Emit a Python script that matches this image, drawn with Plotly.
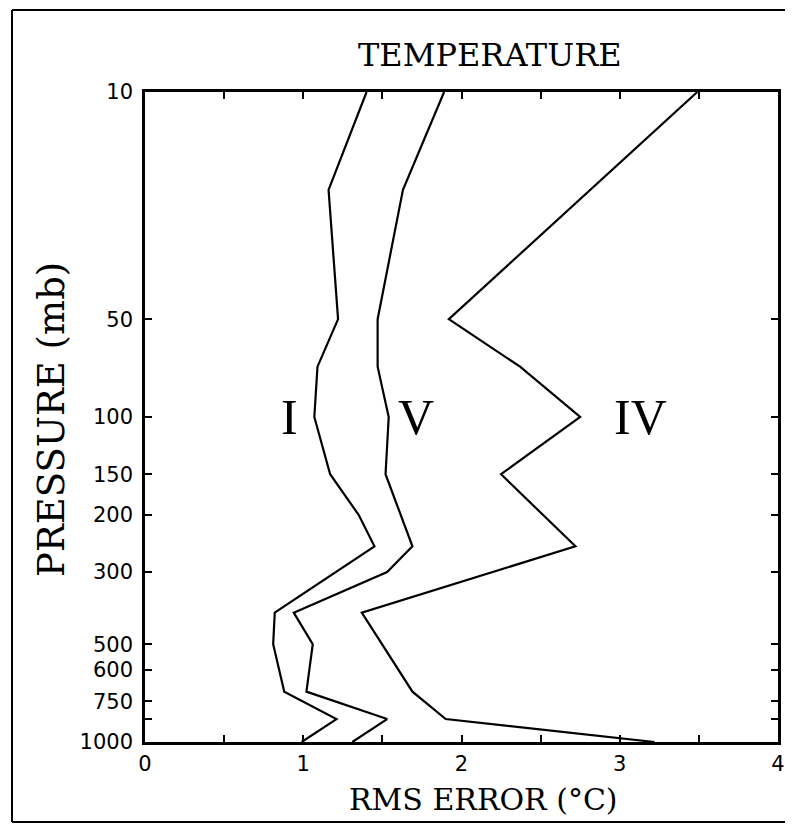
import math
import plotly.graph_objects as go

# Pressure levels (mb) where curve vertices lie
pressure = [10, 20, 50, 70, 100, 150, 200, 250, 300, 400, 500, 700, 850, 1000]

# RMS temperature error (deg C); None = no vertex at that level
rms_I = [1.40, 1.16, 1.22, 1.09, 1.07, 1.17, 1.35, 1.45, None, 0.82, 0.81, 0.88, 1.21, 0.99]
rms_V = [1.89, 1.63, 1.47, 1.47, 1.54, 1.52, None, 1.69, 1.53, 0.94, 1.06, 1.02, 1.53, 1.31]
rms_IV = [3.49, None, 1.92, 2.37, 2.75, 2.25, None, 2.72, None, 1.37, None, 1.69, 1.90, 3.22]

series_names = ["I", "V", "IV"]
series_values = [rms_I, rms_V, rms_IV]
label_x = [0.91, 1.71, 3.13]
label_p = [100, 100, 100]

y_tickvals = [10, 50, 100, 150, 200, 300, 500, 600, 750, 850, 1000]
y_ticktext = ["10", "50", "100", "150", "200", "300", "500", "600", "750", "", "1000"]
x_tickvals = [0, 0.5, 1, 1.5, 2, 2.5, 3, 3.5, 4]
x_ticktext = ["0", "", "1", "", "2", "", "3", "", "4"]

fig = go.Figure()
for name, vals in zip(series_names, series_values):
    fig.add_trace(go.Scatter(
        x=vals, y=pressure, mode="lines", name=name, connectgaps=True,
        line=dict(color="black", width=2.2), showlegend=False,
    ))

for name, lx, lp in zip(series_names, label_x, label_p):
    fig.add_annotation(x=lx, y=math.log10(lp), xref="x", yref="y", text=name,
                       showarrow=False, font=dict(family="Liberation Serif", size=50, color="black"),
                       xanchor="center", yanchor="middle")

# page offset of the figure inside the browser body (default 8px body margin)
OFF = 8
W, H = 793 - OFF, 828 - OFF
L, R, T, B = 145 - OFF, 778 - OFF, 92 - OFF, 742 - OFF
pw, ph = R - L, B - T

def px_x(px):
    return (px - OFF - L) / pw

def px_y(py):
    return (B - (py - OFF)) / ph

fig.add_annotation(x=px_x(490), y=px_y(55), xref="paper", yref="paper", text="TEMPERATURE",
                   showarrow=False, font=dict(family="DejaVu Serif", size=32, color="black"),
                   xanchor="center", yanchor="middle")
fig.add_annotation(x=px_x(483), y=px_y(799), xref="paper", yref="paper", text="RMS ERROR (°C)",
                   showarrow=False, font=dict(family="DejaVu Serif", size=30, color="black"),
                   xanchor="center", yanchor="middle")
fig.add_annotation(x=px_x(51), y=px_y(420), xref="paper", yref="paper", text="PRESSURE (mb)",
                   showarrow=False, textangle=-90, font=dict(family="DejaVu Serif", size=37, color="black"),
                   xanchor="center", yanchor="middle")

# scanned page border (left, top, bottom)
border = dict(color="black", width=2)
fig.add_shape(type="line", xref="paper", yref="paper", x0=px_x(12), x1=px_x(12), y0=px_y(822), y1=px_y(10), line=border)
fig.add_shape(type="line", xref="paper", yref="paper", x0=px_x(12), x1=px_x(800), y0=px_y(10), y1=px_y(10), line=border)
fig.add_shape(type="line", xref="paper", yref="paper", x0=px_x(12), x1=px_x(800), y0=px_y(822), y1=px_y(822), line=border)

fig.update_xaxes(range=[0, 4], tickvals=x_tickvals, ticktext=x_ticktext, ticks="inside", ticklen=7,
                 tickwidth=1.5, tickcolor="black", showline=True, linewidth=2.5, linecolor="black",
                 mirror="ticks", showgrid=False, zeroline=False, ticklabelstandoff=1,
                 tickfont=dict(family="DejaVu Sans", size=21, color="black"))
fig.update_yaxes(type="log", range=[3, 1], tickvals=y_tickvals, ticktext=y_ticktext, ticks="inside",
                 ticklen=7, tickwidth=1.5, tickcolor="black", showline=True, linewidth=2.5,
                 linecolor="black", mirror="ticks", showgrid=False, zeroline=False,
                 ticklabelstandoff=5,
                 tickfont=dict(family="DejaVu Sans", size=21, color="black"))

fig.update_layout(width=W, height=H, margin=dict(l=L, r=W - R, t=T, b=H - B, autoexpand=False),
                  plot_bgcolor="white", paper_bgcolor="white")

fig.write_html("out.html")
